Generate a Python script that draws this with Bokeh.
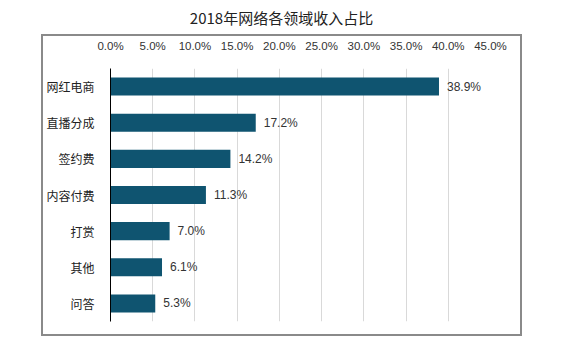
from bokeh.plotting import figure
from bokeh.models import ColumnDataSource, FixedTicker, Range1d, FactorRange, Div
from bokeh.layouts import column
from bokeh.core.properties import value
from bokeh.embed import file_html
from bokeh.resources import INLINE

title_text = "2018年网络各领域收入占比"
categories = ["网红电商", "直播分成", "签约费", "内容付费", "打赏", "其他", "问答"]
values = [38.9, 17.2, 14.2, 11.3, 7.0, 6.1, 5.3]
value_labels = ["38.9%", "17.2%", "14.2%", "11.3%", "7.0%", "6.1%", "5.3%"]
tick_values = [0, 5, 10, 15, 20, 25, 30, 35, 40, 45]
tick_labels = ["0.0%", "5.0%", "10.0%", "15.0%", "20.0%", "25.0%", "30.0%", "35.0%", "40.0%", "45.0%"]

source = ColumnDataSource(dict(cat=categories, val=values, lab=value_labels))

title_div = Div(
    text=title_text, width=481, height=34, margin=(0, 0, 2, 41),
    styles={"text-align": "center", "font-family": "Noto Sans CJK SC",
            "font-size": "15px", "color": "#222222", "line-height": "36px",
            "width": "481px"},
)

p = figure(
    width=477, height=298,
    x_range=Range1d(0, 45),
    y_range=FactorRange(factors=categories[::-1]),
    x_axis_location="above",
    toolbar_location=None,
    output_backend="svg",
    min_border_left=63, min_border_right=30, min_border_bottom=13, min_border_top=28,
    margin=(0, 0, 0, 43),
    styles={"outline": "2px solid #8a8a8a"},
)

p.hbar(y="cat", right="val", left=0, height=0.5, source=source,
       fill_color="#0f5470", line_color=None)
p.text(x="val", y="cat", text="lab", source=source, x_offset=8,
       text_baseline="middle", text_align="left",
       text_font=value("Liberation Sans"), text_font_size="12px", text_color="#333333")

xa = p.xaxis[0]
xa.ticker = FixedTicker(ticks=tick_values)
xa.major_label_overrides = {t: l for t, l in zip(tick_values, tick_labels)}
xa.axis_line_color = None
xa.major_tick_line_color = None
xa.minor_tick_line_color = None
xa.major_label_standoff = 11
xa.major_label_text_font = "Liberation Sans"
xa.major_label_text_font_size = "11.5px"
xa.major_label_text_color = "#333333"

ya = p.yaxis[0]
ya.axis_line_color = "#000000"
ya.axis_line_width = 1
ya.major_tick_line_color = None
ya.minor_tick_line_color = None
ya.major_label_standoff = 10
ya.major_label_text_font = "Noto Sans CJK SC"
ya.major_label_text_font_size = "12px"
ya.major_label_text_color = "#222222"

p.ygrid.grid_line_color = None
p.xgrid.grid_line_color = "#d9d9d9"
p.xgrid.ticker = FixedTicker(ticks=tick_values)
p.outline_line_color = None

layout = column(title_div, p, spacing=0)

open("out.html", "w").write(file_html(layout, INLINE))
